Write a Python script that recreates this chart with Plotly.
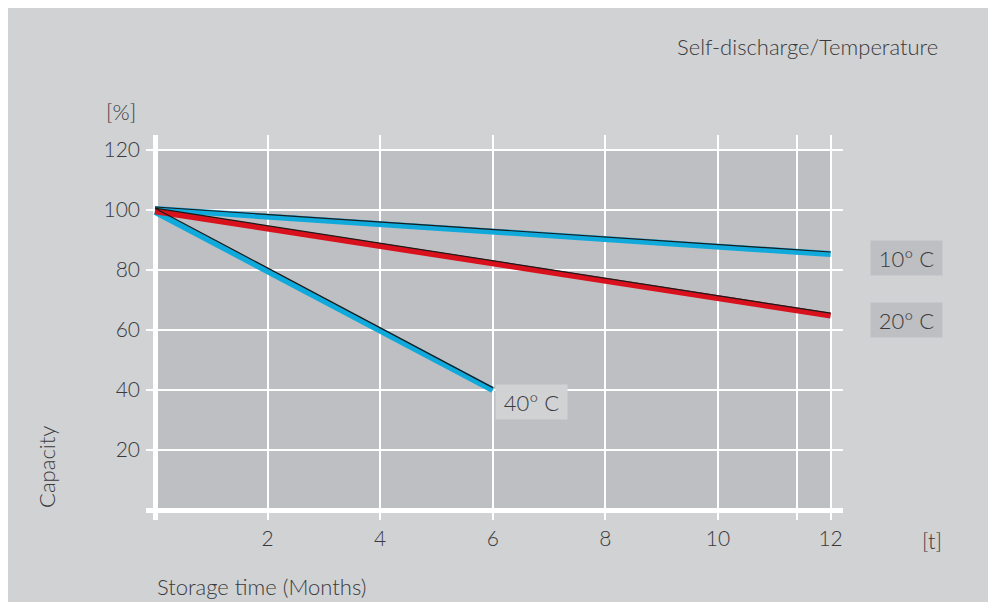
import plotly.graph_objects as go

# ---- data ----
months = [0, 12]
months_40 = [0, 6]
cap_10 = [100.3, 85.3]
cap_20 = [99.6, 64.8]
cap_40 = [99.4, 40.0]
# thin dark edge lines drawn along the top of each band
edge_10 = [101.0, 86.0]
edge_20 = [100.6, 65.6]
edge_40 = [100.6, 40.8]
series_names = ["10° C", "20° C", "40° C"]
x_ticks = [2, 4, 6, 8, 10, 11.4, 12]
x_tick_text = ["2", "4", "6", "8", "10", "", "12"]
y_ticks = [20, 40, 60, 80, 100, 120]

BLUE = "#10a9dc"
RED = "#d8111c"
TXT = "#3a3a3c"
PAPER = "#d1d2d4"
PLOT = "#bebfc3"
FONT = "Lato"

fig = go.Figure()
fig.add_trace(go.Scatter(x=months, y=cap_10, mode="lines", line=dict(color=BLUE, width=6), name=series_names[0]))
fig.add_trace(go.Scatter(x=months_40, y=cap_40, mode="lines", line=dict(color=BLUE, width=6), name=series_names[2]))
fig.add_trace(go.Scatter(x=months, y=cap_20, mode="lines", line=dict(color=RED, width=6), name=series_names[1]))
for xs, ys in [(months, edge_10), (months, edge_20), (months_40, edge_40)]:
    fig.add_trace(go.Scatter(x=xs, y=ys, mode="lines", line=dict(color="#1a1a1a", width=1.2), hoverinfo="skip"))

# gray plotting area
fig.add_shape(type="rect", xref="x", yref="y", x0=0, x1=12, y0=0, y1=120,
              fillcolor=PLOT, line=dict(width=0), layer="below")

lab_font = dict(family=FONT, size=22, color=TXT, weight=300)
# labels at line ends
fig.add_annotation(x=1.0911, y=0.6805, xref="paper", yref="paper", text=series_names[0], showarrow=False,
                   xanchor="center", yanchor="middle",
                   bgcolor=PLOT, width=69, height=32, font=lab_font)
fig.add_annotation(x=1.0911, y=0.5195, xref="paper", yref="paper", text=series_names[1], showarrow=False,
                   xanchor="center", yanchor="middle",
                   bgcolor=PLOT, width=69, height=32, font=lab_font)
fig.add_annotation(x=6.69, y=36.0, xref="x", yref="y", text=series_names[2], showarrow=False,
                   xanchor="center", yanchor="middle",
                   bgcolor=PAPER, width=69, height=32, font=lab_font)

ann_font = dict(family=FONT, size=22, color=TXT, weight=300)
fig.add_annotation(x=1.139, y=1.231, xref="paper", yref="paper", text="Self-discharge/Temperature",
                   xanchor="right", yanchor="middle", showarrow=False, font=ann_font)
fig.add_annotation(x=-0.036, y=1.060, xref="paper", yref="paper", text="[%]",
                   xanchor="center", yanchor="middle", showarrow=False, font=ann_font)
fig.add_annotation(x=-0.142, y=0.138, xref="paper", yref="paper", text="Capacity", textangle=-90,
                   xanchor="center", yanchor="middle", showarrow=False, font=ann_font)
fig.add_annotation(x=0.0129, y=-0.174, xref="paper", yref="paper", text="Storage time (Months)",
                   xanchor="left", yanchor="middle", showarrow=False, font=ann_font)
fig.add_annotation(x=1.128, y=-0.052, xref="paper", yref="paper", text="[t]",
                   xanchor="center", yanchor="middle", showarrow=False, font=ann_font)

tick_font = dict(family=FONT, size=21, color=TXT, weight=300)
fig.update_xaxes(range=[-0.16, 12.22], tickvals=x_ticks, ticktext=x_tick_text, showgrid=True,
                 gridcolor="white", gridwidth=2,
                 zeroline=True, zerolinecolor="white", zerolinewidth=5, showline=False,
                 tickfont=tick_font, ticks="", ticklabelstandoff=4, fixedrange=True)
fig.update_yaxes(range=[-3.33, 125], tickvals=y_ticks, showgrid=True, gridcolor="white", gridwidth=2,
                 zeroline=True, zerolinecolor="white", zerolinewidth=5, showline=False,
                 tickfont=tick_font, ticks="", ticklabelstandoff=5, fixedrange=True)

fig.update_layout(width=986, height=594, margin=dict(l=138, r=151, t=127, b=82),
                  paper_bgcolor=PAPER, plot_bgcolor=PAPER, showlegend=False,
                  font=dict(family=FONT, color=TXT))
fig.write_html("out.html")
